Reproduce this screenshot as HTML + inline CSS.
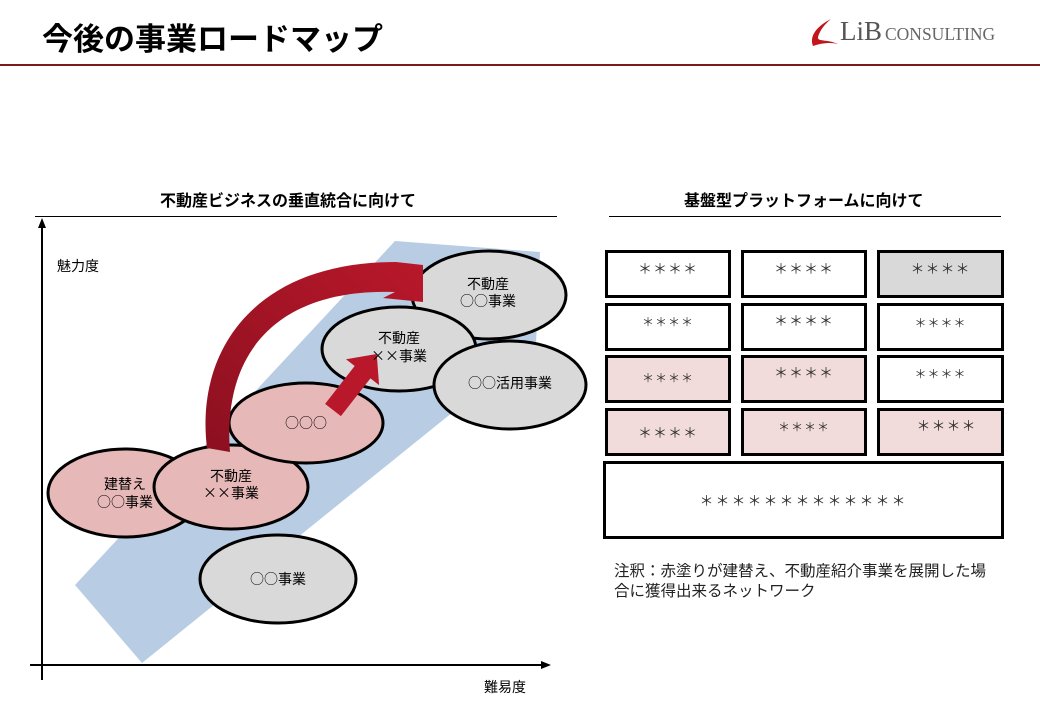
<!DOCTYPE html>
<html><head><meta charset="utf-8"><style>
body{margin:0;width:1040px;height:720px;background:#fff;overflow:hidden;position:relative;font-family:"Liberation Sans","Noto Sans CJK JP",sans-serif;}
.abs{position:absolute;}
.h{font-weight:bold;font-size:16px;color:#000;white-space:nowrap;}
.box{position:absolute;border:3px solid #000;box-sizing:border-box;text-align:center;font-size:14px;color:#333;letter-spacing:1px;font-family:"Noto Sans CJK JP",sans-serif;}
</style></head><body>
<div class="abs" style="left:42px;top:14px;font-size:31px;font-weight:bold;letter-spacing:0px;">今後の事業ロードマップ</div>
<div class="abs" style="left:805px;top:18px;width:34px;height:30px;">
<svg width="34" height="30"><path d="M26,1 C12,8 4,18 8,28 C16,25 26,24 33,26 C22,21 12,24 13,19 C15,12 20,6 26,1Z" fill="#c0161c"/></svg></div>
<div class="abs" style="left:840px;top:16px;font-family:'Liberation Serif',serif;font-size:27px;color:#555;">LiB</div>
<div class="abs" style="left:885px;top:24px;font-family:'Liberation Serif',serif;font-size:17.5px;color:#666;">CONSULTING</div>
<div class="abs" style="left:0;top:64px;width:1040px;height:2px;background:#7a1a1a;"></div>

<div class="abs h" style="left:160px;top:187px;">不動産ビジネスの垂直統合に向けて</div>
<div class="abs" style="left:35px;top:216px;width:522px;height:1px;background:#000;"></div>
<div class="abs h" style="left:684px;top:187px;">基盤型プラットフォームに向けて</div>
<div class="abs" style="left:609px;top:216px;width:392px;height:1px;background:#000;"></div>

<svg class="abs" style="left:0;top:0" width="1040" height="720">
<defs><linearGradient id="g" x1="0" y1="1" x2="1" y2="0"><stop offset="0" stop-color="#8c1020"/><stop offset="1" stop-color="#b8182a"/></linearGradient></defs>
<line x1="42" y1="680" x2="42" y2="224" stroke="#000" stroke-width="2"/>
<polygon points="42,218 38,228 46,228" fill="#000"/>
<line x1="30" y1="665" x2="544" y2="665" stroke="#000" stroke-width="2"/>
<polygon points="551,665 541,661 541,669" fill="#000"/>
<polygon points="395,241 540,252 536,345 142,663 75,585" fill="#b8cce4"/>
<g stroke="#000" stroke-width="3">
<ellipse cx="278" cy="579" rx="78" ry="44" fill="#d9d9d9"/>
<ellipse cx="125" cy="493" rx="77" ry="44" fill="#e6b8b7"/>
<ellipse cx="231" cy="487" rx="77" ry="42" fill="#e6b8b7"/>
<ellipse cx="306" cy="423" rx="77" ry="40" fill="#e6b8b7"/>
<ellipse cx="489" cy="295" rx="77" ry="44" fill="#d9d9d9"/>
<ellipse cx="399" cy="349" rx="77" ry="42" fill="#d9d9d9"/>
<ellipse cx="510" cy="385" rx="76" ry="44" fill="#d9d9d9"/>
</g>
<path d="M207,448 C195,350 255,262 396,262 L423,265 L423,302 L383,298 L395,292 C280,288 222,350 230,452 Z" fill="url(#g)"/>
<g transform="translate(333,410) rotate(-52)">
<polygon points="0,-10 48,-10 48,-21 71,0 48,21 48,10 0,10" fill="#b8182a"/>
</g>
<g font-size="14" fill="#000" text-anchor="middle" font-family="Noto Sans CJK JP, sans-serif">
<text x="488" y="289">不動産</text><text x="488" y="306">○○事業</text>
<text x="399" y="343">不動産</text><text x="399" y="361">××事業</text>
<text x="510" y="388">○○活用事業</text>
<text x="306" y="428">○○○</text>
<text x="125" y="489">建替え</text><text x="125" y="507">○○事業</text>
<text x="231" y="481">不動産</text><text x="231" y="498">××事業</text>
<text x="278" y="584">○○事業</text>
<text x="78" y="271">魅力度</text>
<text x="505" y="692">難易度</text>
</g>
</svg>

<div class="box" style="left:605px;top:250px;width:126px;height:48px;padding-top:6px;">＊＊＊＊</div>
<div class="box" style="left:741px;top:250px;width:126px;height:48px;padding-top:6px;">＊＊＊＊</div>
<div class="box" style="left:877px;top:250px;width:127px;height:48px;padding-top:6px;background:#d9d9d9;">＊＊＊＊</div>
<div class="box" style="left:605px;top:303px;width:126px;height:48px;padding-top:7px;font-size:12px;">＊＊＊＊</div>
<div class="box" style="left:741px;top:303px;width:126px;height:48px;padding-top:5px;">＊＊＊＊</div>
<div class="box" style="left:877px;top:303px;width:127px;height:48px;padding-top:8px;font-size:12px;">＊＊＊＊</div>
<div class="box" style="left:605px;top:355px;width:126px;height:48px;padding-top:11px;font-size:12px;background:#f2dcdb;">＊＊＊＊</div>
<div class="box" style="left:741px;top:355px;width:126px;height:48px;padding-top:5px;background:#f2dcdb;">＊＊＊＊</div>
<div class="box" style="left:877px;top:355px;width:127px;height:48px;padding-top:7px;font-size:12px;">＊＊＊＊</div>
<div class="box" style="left:605px;top:408px;width:126px;height:48px;padding-top:12px;background:#f2dcdb;">＊＊＊＊</div>
<div class="box" style="left:741px;top:408px;width:126px;height:48px;padding-top:7px;font-size:12px;background:#f2dcdb;">＊＊＊＊</div>
<div class="box" style="left:877px;top:408px;width:127px;height:48px;padding-top:5px;padding-left:12px;background:#f2dcdb;">＊＊＊＊</div>
<div class="box" style="left:603px;top:461px;width:401px;height:78px;padding-top:27px;letter-spacing:2px;">＊＊＊＊＊＊＊＊＊＊＊＊＊</div>
<div class="abs" style="left:614px;top:560px;font-size:15.5px;line-height:20px;color:#222;font-family:'Noto Sans CJK JP',sans-serif;white-space:nowrap;">注釈：赤塗りが建替え、不動産紹介事業を展開した場<br>合に獲得出来るネットワーク</div>
</body></html>
